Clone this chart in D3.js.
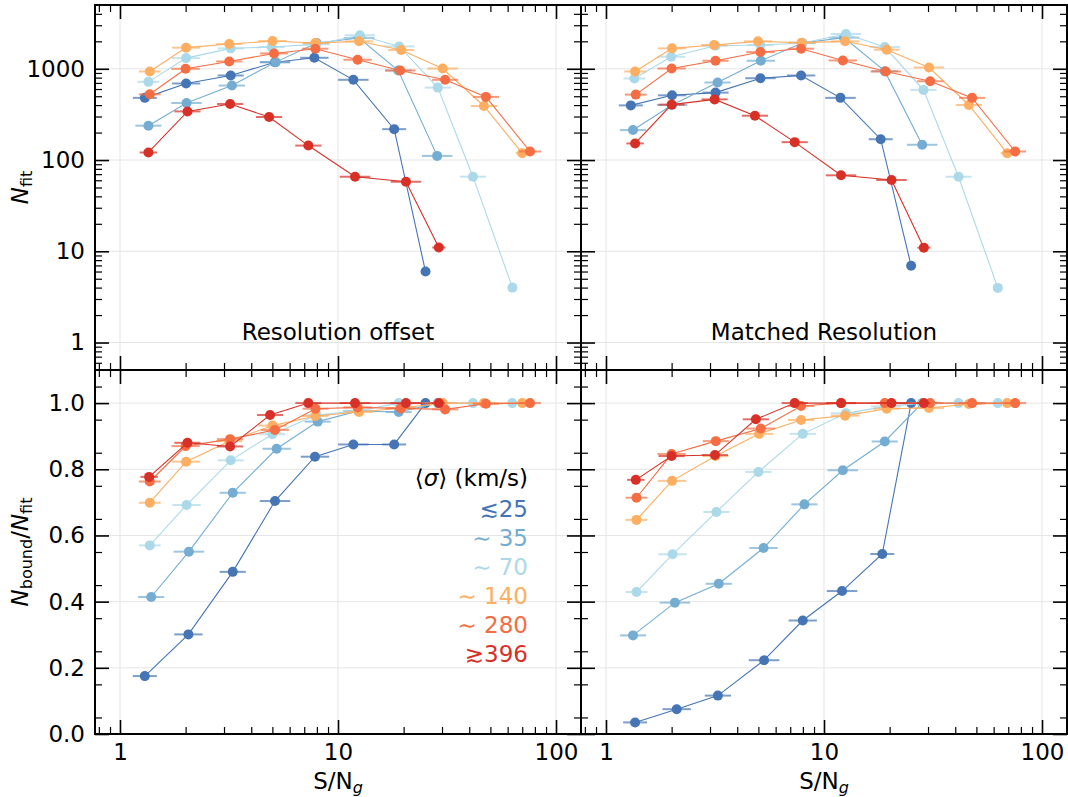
<!DOCTYPE html>
<html><head><meta charset="utf-8">
<script src="https://cdn.jsdelivr.net/npm/d3@7"></script>
<style>
body{margin:0;background:#fff;}
svg{display:block;font-family:"DejaVu Sans",sans-serif;}
</style></head><body>
<svg id="chart" width="1068" height="797"></svg>
<script>
// ---------------- DATA ----------------
const sigmaLabels = ["≲25", "∼ 35", "∼ 70", "∼ 140", "∼ 280", "≳396"];
const legendTitle = "(km/s)";
const panelTitles = ["Resolution offset", "Matched Resolution"];
const xMajorTicks = [1, 10, 100];
const yTopTicks = [1, 10, 100, 1000];
const yBotTicks = [0, 0.2, 0.4, 0.6, 0.8, 1.0];

// Resolution offset — N_fit (upper left)
const snOffsetTop = [
  [1.30, 2.01, 3.22, 5.14, 7.79, 11.76, 18.1, 25.2],
  [1.35, 2.02, 3.26, 5.18, 7.98, 12.5, 18.9, 28.5],
  [1.35, 2.01, 3.22, 4.96, 7.95, 12.6, 19.1, 28.7, 41.6, 63.1],
  [1.37, 2.01, 3.17, 5.01, 7.87, 12.5, 19.5, 30.2, 46.7, 70.0],
  [1.37, 2.00, 3.17, 5.09, 7.87, 12.3, 19.3, 31.0, 47.7, 76.0],
  [1.35, 2.04, 3.20, 4.83, 7.31, 11.97, 20.5, 29.0]
];
const nfitOffset = [
  [480, 690, 845, 1180, 1320, 757, 218, 6],
  [238, 422, 655, 1183, 1914, 2173, 958, 111],
  [719, 1309, 1674, 1731, 1852, 2328, 1759, 622, 65.7, 4.0],
  [934, 1704, 1866, 2014, 1914, 1999, 1604, 1007, 391, 119],
  [525, 1000, 1203, 1473, 1660, 1256, 958, 757, 492, 124],
  [121, 341, 411, 296, 144, 65.6, 57.8, 11.0]
];
// Resolution offset — N_bound/N_fit (lower left)
const snOffsetBot = [
  [1.30, 2.06, 3.29, 5.14, 7.84, 11.76, 18.1, 25.2],
  [1.39, 2.07, 3.29, 5.23, 8.07, 12.4, 19.0, 28.7],
  [1.37, 2.02, 3.22, 5.00, 7.98, 12.5, 19.0, 28.7, 41.6, 63.0],
  [1.37, 2.01, 3.17, 5.01, 7.87, 12.5, 19.5, 30.2, 46.7, 70.0],
  [1.37, 2.00, 3.20, 5.14, 7.89, 12.3, 19.4, 31.0, 47.7, 76.0],
  [1.36, 2.04, 3.20, 4.88, 7.31, 11.97, 20.5, 29.0]
];
const fracOffset = [
  [0.175, 0.301, 0.490, 0.704, 0.838, 0.875, 0.875, 1.0],
  [0.414, 0.551, 0.729, 0.862, 0.944, 0.976, 0.973, 1.0],
  [0.570, 0.692, 0.827, 0.906, 0.964, 0.977, 1.0, 1.0, 1.0, 1.0],
  [0.699, 0.823, 0.885, 0.932, 0.961, 0.973, 0.985, 1.0, 1.0, 1.0],
  [0.763, 0.870, 0.891, 0.919, 0.983, 0.987, 0.984, 0.981, 0.998, 1.0],
  [0.777, 0.880, 0.869, 0.964, 1.0, 1.0, 1.0, 1.0]
];
// Matched resolution — N_fit (upper right)
const snMatchedTop = [
  [1.30, 2.01, 3.18, 5.11, 7.85, 11.9, 18.2, 25.1],
  [1.33, 2.01, 3.25, 5.13, 7.96, 12.35, 19.0, 28.2],
  [1.35, 1.99, 3.18, 5.10, 7.96, 12.6, 19.0, 28.6, 41.4, 62.7],
  [1.36, 2.01, 3.13, 4.98, 7.88, 12.5, 19.4, 30.3, 46.2, 69.2],
  [1.37, 2.00, 3.18, 5.11, 7.85, 12.2, 19.2, 30.7, 47.8, 75.3],
  [1.36, 2.00, 3.15, 4.82, 7.34, 11.97, 20.4, 28.7]
];
const nfitMatched = [
  [397, 512, 548, 788, 844, 480, 169, 6.94],
  [213, 401, 707, 1225, 1914, 2195, 941, 147],
  [782, 1355, 1791, 1820, 1914, 2405, 1730, 587, 65.6, 3.97],
  [934, 1674, 1820, 1999, 1933, 1999, 1619, 1033, 401, 119],
  [521, 1007, 1225, 1524, 1660, 1234, 934, 730, 480, 124],
  [152, 405, 462, 306, 157, 68, 60.4, 10.96]
];
// Matched resolution — N_bound/N_fit (lower right)
const snMatchedBot = [
  [1.36, 2.11, 3.26, 5.31, 7.99, 12.1, 18.5, 25.1],
  [1.33, 2.07, 3.29, 5.28, 8.13, 12.2, 19.0, 28.2],
  [1.38, 2.02, 3.21, 5.00, 7.99, 12.6, 19.3, 28.4, 41.4, 62.7],
  [1.38, 2.01, 3.18, 5.04, 7.85, 12.5, 19.4, 30.3, 46.2, 69.2],
  [1.38, 2.00, 3.19, 5.13, 7.85, 12.0, 19.0, 30.7, 47.8, 75.3],
  [1.37, 2.00, 3.16, 4.87, 7.34, 11.97, 20.4, 28.7]
];
const fracMatched = [
  [0.035, 0.075, 0.116, 0.223, 0.343, 0.432, 0.544, 1.0],
  [0.298, 0.397, 0.454, 0.562, 0.694, 0.797, 0.884, 1.0],
  [0.429, 0.543, 0.671, 0.792, 0.907, 0.969, 0.99, 1.0, 1.0, 1.0],
  [0.647, 0.765, 0.840, 0.907, 0.949, 0.962, 0.983, 0.985, 0.997, 1.0],
  [0.714, 0.846, 0.885, 0.923, 0.991, 1.0, 1.0, 1.0, 1.0, 1.0],
  [0.768, 0.840, 0.843, 0.951, 1.0, 1.0, 1.0, 1.0]
];
// half-width of the S/N error bars (dex)
const snErr = [
  [0.055, 0.065, 0.06, 0.07, 0.065, 0.07, 0.055, 0.0],
  [0.06, 0.07, 0.06, 0.065, 0.06, 0.07, 0.06, 0.07],
  [0.05, 0.065, 0.06, 0.06, 0.06, 0.07, 0.07, 0.06, 0.06, 0.0],
  [0.05, 0.065, 0.06, 0.065, 0.06, 0.065, 0.06, 0.07, 0.06, 0.03],
  [0.05, 0.065, 0.06, 0.065, 0.06, 0.065, 0.07, 0.06, 0.06, 0.05],
  [0.04, 0.06, 0.06, 0.06, 0.06, 0.07, 0.07, 0.03]
];

// ---------------- STYLE ----------------
const colors = ["#4575b4", "#74add1", "#abd9e9", "#fdae61", "#f46d43", "#d73027"];
const FONT = 23;
const svg = d3.select("#chart");
const X = [[95, 581], [581, 1067]];
const Y = {top: [5, 370], bot: [370, 734]};

const xDomain = [0.768, 130.2];
const yTopDomain = [0.5, 5000];
const yBotDomain = [0, 1.1];

function minorLog(domain) {
  const out = [];
  for (let e = -2; e <= 4; e++) {
    for (let k = 2; k <= 9; k++) {
      const v = k * Math.pow(10, e);
      if (v > domain[0] && v < domain[1]) out.push(+v.toPrecision(3));
    }
  }
  return out;
}

function drawPanel(col, row) {
  const [x0, x1] = X[col];
  const [y0, y1] = Y[row];
  const x = d3.scaleLog().domain(xDomain).range([x0, x1]);
  const y = row === "top"
    ? d3.scaleLog().domain(yTopDomain).range([y1, y0])
    : d3.scaleLinear().domain(yBotDomain).range([y1, y0]);
  const yMajor = row === "top" ? yTopTicks : yBotTicks;
  const yMinor = row === "top" ? minorLog(yTopDomain) : d3.range(0.05, 1.1, 0.1).map(v => +v.toFixed(2));
  const xMinor = minorLog(xDomain);

  const g = svg.append("g");
  // clip
  const cid = `clip-${col}-${row}`;
  svg.append("clipPath").attr("id", cid).append("rect")
    .attr("x", x0).attr("y", y0).attr("width", x1 - x0).attr("height", y1 - y0);

  // grid
  const grid = g.append("g").attr("stroke", "#e5e5e5").attr("stroke-width", 1);
  grid.selectAll(".gx").data(xMajorTicks).join("line")
    .attr("x1", d => x(d)).attr("x2", d => x(d)).attr("y1", y0).attr("y2", y1);
  grid.selectAll(".gy").data(yMajor).join("line")
    .attr("y1", d => y(d)).attr("y2", d => y(d)).attr("x1", x0).attr("x2", x1);

  // data
  const sn = col === 0 ? (row === "top" ? snOffsetTop : snOffsetBot) : (row === "top" ? snMatchedTop : snMatchedBot);
  const vals = col === 0 ? (row === "top" ? nfitOffset : fracOffset) : (row === "top" ? nfitMatched : fracMatched);
  const dg = g.append("g").attr("clip-path", `url(#${cid})`);
  const line = d3.line().x(d => x(d[0])).y(d => y(d[1]));
  sn.forEach((xs, i) => {
    const pts = xs.map((v, j) => [v, vals[i][j], snErr[i][j]]);
    const s = dg.append("g");
    s.selectAll("line.err").data(pts).join("line")
      .attr("x1", d => x(d[0] * Math.pow(10, -d[2])))
      .attr("x2", d => x(d[0] * Math.pow(10, d[2])))
      .attr("y1", d => y(d[1])).attr("y2", d => y(d[1]))
      .attr("stroke", colors[i]).attr("stroke-width", 2).attr("stroke-opacity", 0.7);
    s.append("path").attr("d", line(pts)).attr("fill", "none")
      .attr("stroke", colors[i]).attr("stroke-width", 1.1);
    s.selectAll("circle").data(pts).join("circle")
      .attr("cx", d => x(d[0])).attr("cy", d => y(d[1])).attr("r", 5)
      .attr("fill", colors[i]);
  });

  // axes (ticks inward on all four sides)
  const showX = row === "bot";
  const showY = col === 0;
  const fmtY = row === "top" ? (d => String(d)) : d3.format(".1f");
  const addAxis = (gen, tr, ticks, size, fmt, sw) => {
    const a = g.append("g").attr("transform", tr)
      .call(gen.tickValues(ticks).tickSize(-size).tickPadding(10).tickFormat(fmt || (() => "")));
    a.select(".domain").remove();
    a.selectAll("line").attr("stroke", "#000").attr("stroke-width", sw);
    a.attr("font-size", FONT).attr("font-family", "DejaVu Sans");
    a.selectAll("text").attr("fill", "#000");
    return a;
  };
  addAxis(d3.axisBottom(x), `translate(0,${y1})`, xMajorTicks, 14, showX ? (d => String(d)) : null, 1.6);
  addAxis(d3.axisBottom(x), `translate(0,${y1})`, xMinor, 7, null, 1.2);
  addAxis(d3.axisTop(x), `translate(0,${y0})`, xMajorTicks, 14, null, 1.6);
  addAxis(d3.axisTop(x), `translate(0,${y0})`, xMinor, 7, null, 1.2);
  addAxis(d3.axisLeft(y), `translate(${x0},0)`, yMajor, 14, showY ? fmtY : null, 1.6);
  addAxis(d3.axisLeft(y), `translate(${x0},0)`, yMinor, 7, null, 1.2);
  addAxis(d3.axisRight(y), `translate(${x1},0)`, yMajor, 14, null, 1.6);
  addAxis(d3.axisRight(y), `translate(${x1},0)`, yMinor, 7, null, 1.2);

  // frame
  g.append("rect").attr("x", x0).attr("y", y0).attr("width", x1 - x0).attr("height", y1 - y0)
    .attr("fill", "none").attr("stroke", "#000").attr("stroke-width", 2);

  if (row === "top") {
    g.append("text").attr("x", (x0 + x1) / 2).attr("y", 340).attr("text-anchor", "middle")
      .attr("font-size", FONT).text(panelTitles[col]);
  } else {
    const t = g.append("text").attr("x", (x0 + x1) / 2).attr("y", 789).attr("text-anchor", "middle")
      .attr("font-size", FONT);
    t.append("tspan").text("S/N");
    t.append("tspan").attr("font-size", 16).attr("font-style", "italic").attr("dy", 4).text("g");
  }
}

drawPanel(0, "top");
drawPanel(1, "top");
drawPanel(0, "bot");
drawPanel(1, "bot");

// y labels
const yl1 = svg.append("text").attr("transform", "translate(28,187.5) rotate(-90)")
  .attr("text-anchor", "middle").attr("font-size", FONT);
yl1.append("tspan").attr("font-style", "italic").text("N");
yl1.append("tspan").attr("font-size", 16).attr("dy", 4).text("fit");

const yl2 = svg.append("text").attr("transform", "translate(28,552) rotate(-90)")
  .attr("text-anchor", "middle").attr("font-size", FONT);
yl2.append("tspan").attr("font-style", "italic").text("N");
yl2.append("tspan").attr("font-size", 16).attr("dy", 4).text("bound");
yl2.append("tspan").attr("dy", -4).text("/");
yl2.append("tspan").attr("font-style", "italic").text("N");
yl2.append("tspan").attr("font-size", 16).attr("dy", 4).text("fit");

// legend
const lt = svg.append("text").attr("x", 528).attr("y", 486).attr("text-anchor", "end").attr("font-size", FONT);
lt.append("tspan").text("⟨");
lt.append("tspan").attr("font-style", "italic").text("σ");
lt.append("tspan").text("⟩ " + legendTitle);
svg.append("g").selectAll("text").data(sigmaLabels).join("text")
  .attr("x", 528).attr("y", (d, i) => 517 + 29 * i).attr("text-anchor", "end")
  .attr("font-size", FONT).attr("fill", (d, i) => colors[i]).text(d => d);
</script>
</body></html>
